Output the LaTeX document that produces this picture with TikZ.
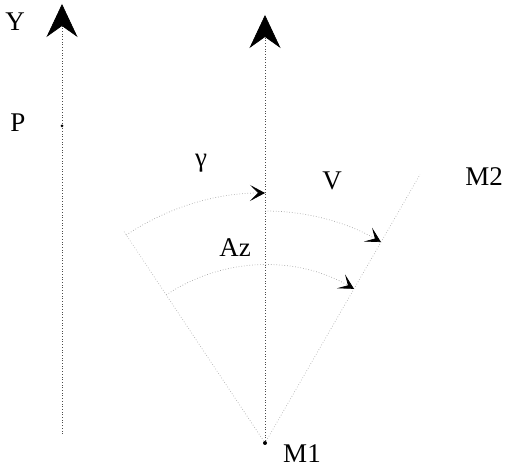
\documentclass[tikz,border=0pt]{standalone}
\usepackage{fontspec}
\setmainfont{Liberation Serif}
\usetikzlibrary{arrows.meta}

\begin{document}
\begin{tikzpicture}[
    x=1pt,y=1pt,font=\fontsize{27}{30}\selectfont,
    north axis/.style={line width=.7pt,black!70,dotted,
        -{Stealth[length=33pt,width=31pt,inset=11pt,black]}},
    faint line/.style={line width=.7pt,black!30,dotted},
    angle arc/.style={line width=.7pt,black!35,dotted,
        -{Stealth[length=15pt,width=16pt,inset=8pt,black]}},
    point/.style={circle,fill=black,inner sep=0pt,minimum size=4pt}
]
    \useasboundingbox (0,0) rectangle (506,468);

    % grid north (Y) and the parallel through M1
    \coordinate (y base) at (62,34);
    \coordinate (y tip) at (62,464);
    \draw[north axis] (y base) -- (y tip);
    \node[point,minimum size=3pt] (p) at (62,342) {};
    \node (lblY) at (15,446) {Y};
    \node (lblP) at (18,345) {P};

    \node[point] (m1) at (265,25) {};
    \coordinate (n tip) at (265,453);
    \draw[north axis] (m1) -- (n tip);
    \node (lblM1) at (302,14) {M1};

    % meridian through M1 and the side M1-M2
    \path (m1.center) ++(123.7:255) coordinate (meridian);
    \path (m1.center) ++(60:310) coordinate (m2);
    \draw[faint line] (m1) -- (meridian);
    \draw[faint line] (m1) -- (m2);
    \node (lblM2) at (484,291) {M2};

    % angles
    \draw[angle arc] (m1.center) ++(123.7:250) arc[start angle=123.7,end angle=90,radius=250pt];
    \draw[angle arc] (m1.center) ++(90:232) arc[start angle=90,end angle=60,radius=232pt];
    \draw[angle arc] (m1.center) ++(123.7:178) arc[start angle=123.7,end angle=60,radius=178pt];
    \node (lblGamma) at (201,305) {γ};
    \node (lblV) at (332,287) {V};
    \node (lblAz) at (235,220) {Az};
\end{tikzpicture}
\end{document}
